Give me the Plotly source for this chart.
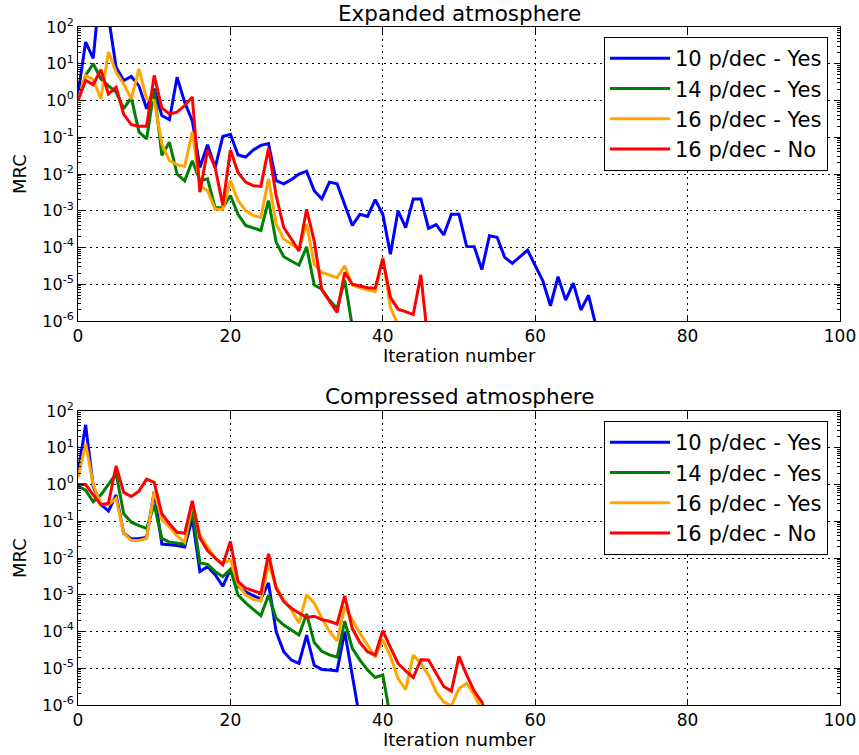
import plotly.graph_objects as go

# ---------------- data ----------------
series_names = ["10 p/dec - Yes", "14 p/dec - Yes", "16 p/dec - Yes", "16 p/dec - No"]
series_colors = ["#0000FF", "#008000", "#FFA500", "#FF0000"]

# Expanded atmosphere (top panel), value at iteration 0,1,2,...
exp_10_yes = [1.5, 39, 14, 2000, 190, 8, 3.5, 4.5, 2.5, 0.6, 2.1, 0.39, 0.3, 4.3, 0.9, 0.28,
              0.015, 0.063, 0.015, 0.105, 0.12, 0.033, 0.029, 0.045, 0.06, 0.067,
              0.0066, 0.0054, 0.007, 0.01, 0.012, 0.0035, 0.0021, 0.006, 0.0054, 0.0015,
              0.0004, 0.0008, 0.0007, 0.002, 0.0008, 6.6e-5, 0.001, 0.00035, 0.0021, 0.0021,
              0.00033, 0.00042, 0.00022, 0.0008, 0.0008, 0.000107, 0.000105, 2.5e-5, 0.00021,
              0.00019, 5.4e-5, 3.7e-5, 5.6e-5, 8.5e-5, 3.2e-5, 1.25e-5, 2.6e-6, 1.6e-5, 3.7e-6,
              1.07e-5, 2e-6, 5e-6, 7e-7]
exp_14_yes = [1.0, 4.8, 10, 3.9, 2.5, 1.7, 0.6, 1.2, 0.14, 0.09, 1.9, 0.032, 0.073, 0.01,
              0.0065, 0.023, 0.0066, 0.0074, 0.0012, 0.0012, 0.0026, 0.0008, 0.0004, 0.00034,
              0.00029, 0.0019, 0.00014, 5.6e-5, 4.2e-5, 3.3e-5, 0.000105, 9.5e-6, 7.4e-6,
              3.7e-6, 2.2e-6, 1.3e-5, 7e-7]
exp_16_yes = [1.0, 4.8, 3.7, 1.1, 21, 5.9, 2.8, 1.1, 7.3, 1.1, 1.0, 0.066, 0.023, 0.018,
              0.016, 0.14, 0.0048, 0.0035, 0.0011, 0.0011, 0.0066, 0.0019, 0.001, 0.00074,
              0.00066, 0.0074, 0.00044, 0.00017, 0.000125, 9e-5, 0.00044, 3.5e-5, 2.1e-5,
              1.8e-5, 1.5e-5, 3.2e-5, 9.5e-6, 8e-6, 7e-6, 6.3e-6, 5.4e-5, 2.3e-6, 8e-7]
exp_16_no = [1.0, 3.5, 2.7, 6.9, 1.5, 2.3, 0.42, 0.22, 0.2, 0.2, 4.8, 0.63, 0.43, 0.48,
             0.73, 1.25, 0.0032, 0.045, 0.015, 0.0014, 0.045, 0.011, 0.006, 0.0048, 0.0046,
             0.05, 0.0026, 0.00035, 0.00017, 8e-5, 0.0011, 0.00015, 7e-6, 3.5e-6, 1.7e-6,
             2.1e-5, 1e-5, 9e-6, 8e-6, 7.8e-6, 4.9e-5, 4.4e-6, 2.1e-6, 1.8e-6, 1.5e-6,
             1.8e-5, 2e-7]

# Compressed atmosphere (bottom panel)
com_10_yes = [2.0, 42, 0.87, 0.29, 0.19, 0.52, 0.047, 0.033, 0.034, 0.036, 0.66, 0.024,
              0.023, 0.022, 0.02, 0.12, 0.0043, 0.0058, 0.0035, 0.0017, 0.0049, 0.0017,
              0.0012, 0.00093, 0.00076, 0.0021, 0.0001, 2.8e-5, 1.67e-5, 1.35e-5, 8e-5,
              1.2e-5, 9.3e-6, 8.9e-6, 8.5e-6, 1e-4, 7.3e-6, 4e-7]
com_14_yes = [0.9, 0.7, 0.34, 0.52, 1.0, 2.0, 0.16, 0.094, 0.076, 0.064, 0.28, 0.034,
              0.027, 0.026, 0.024, 0.2, 0.0073, 0.0067, 0.0043, 0.0031, 0.0049, 0.00098,
              0.0006, 0.0004, 0.00027, 0.00098, 0.00023, 0.00015, 0.00011, 8e-5, 0.0003,
              5e-5, 2.9e-5, 2.3e-5, 2e-5, 0.00019, 3.5e-5, 1.67e-5, 9e-6, 5.6e-6, 6.6e-6,
              4.5e-7]
com_16_yes = [1.5, 13, 1.0, 0.29, 0.28, 0.42, 0.047, 0.03, 0.03, 0.034, 0.66, 0.11, 0.07,
              0.04, 0.027, 0.3, 0.042, 0.02, 0.0098, 0.0072, 0.0089, 0.0019, 0.001, 0.00075,
              0.00068, 0.0072, 0.0017, 0.00072, 0.00039, 0.00017, 0.001, 0.00059, 0.00023,
              0.0001, 5.5e-5, 0.00048, 0.0002, 9e-5, 4.3e-5, 2e-5, 5.9e-5, 2.1e-5, 5.3e-6,
              2.6e-6, 2.3e-5, 1.35e-5, 6.6e-6, 2.3e-6, 1.2e-6, 9.5e-7, 2.8e-6, 3.9e-6,
              1.9e-6, 7e-7]
com_16_no = [1.0, 1.0, 0.52, 0.28, 0.31, 3.2, 0.61, 0.47, 0.66, 1.4, 1.15, 0.16, 0.085,
             0.05, 0.047, 0.36, 0.035, 0.016, 0.01, 0.0065, 0.028, 0.0023, 0.0015, 0.0013,
             0.0011, 0.013, 0.0015, 0.00065, 0.00043, 0.00032, 0.00024, 0.00026, 0.00021,
             0.00019, 0.00016, 0.00093, 0.00012, 5e-5, 2.8e-5, 2.3e-5, 0.000105, 3.7e-5,
             1.35e-5, 8.5e-6, 5.6e-6, 1.7e-5, 1.67e-5, 7.3e-6, 3.2e-6, 2.4e-6, 2.1e-5,
             6.6e-6, 2.4e-6, 1.2e-6, 3e-7]

panel_titles = ["Expanded atmosphere", "Compressed atmosphere"]
x_label = "Iteration number"
y_label = "MRC"
x_ticks = [0, 20, 40, 60, 80, 100]
y_exponents = [-6, -5, -4, -3, -2, -1, 0, 1, 2]

# ---------------- figure ----------------
W, H = 859, 755
ML, MR, MT, MB = 78, 19, 27, 50
plot_h = H - MT - MB
plot_w = W - ML - MR

def py(pix):  # pixel y -> paper y
    return (H - MB - pix) / plot_h

def px(pix):
    return (pix - ML) / plot_w

FONT = "DejaVu Sans"
fig = go.Figure()

panels = [
    ([exp_10_yes, exp_14_yes, exp_16_yes, exp_16_no], "x", "y", "legend", "t"),
    ([com_10_yes, com_14_yes, com_16_yes, com_16_no], "x2", "y2", "legend2", "b"),
]
for data, xa, ya, lg, tag in panels:
    for k, (name, color, vals) in enumerate(zip(series_names, series_colors, data)):
        fig.add_trace(go.Scatter(
            x=list(range(len(vals))), y=vals, mode="lines", name=name,
            line=dict(color=color, width=3), xaxis=xa, yaxis=ya, legend=lg,
        ))

minor_vals = [k * 10.0 ** e for e in range(-6, 2) for k in range(2, 10)]
ytext = ["10<sup>%d</sup>" % e for e in y_exponents]
GRID_DASH = "1.5px,4.5px"

xcommon = dict(range=[0, 100], tickvals=x_ticks, ticktext=[str(v) for v in x_ticks],
               showline=True, linecolor="black", linewidth=1, mirror="ticks",
               ticks="inside", ticklen=6, tickcolor="black", automargin=False,
               showgrid=True, gridcolor="black", griddash=GRID_DASH, gridwidth=1,
               zeroline=False, tickfont=dict(family=FONT, size=17, color="black"))
ycommon = dict(type="log", range=[-6, 2], tickvals=[10.0 ** e for e in y_exponents],
               ticktext=ytext, showline=True, linecolor="black", linewidth=1,
               mirror="ticks", ticks="inside", ticklen=6, tickcolor="black",
               automargin=False,
               showgrid=True, gridcolor="black", griddash=GRID_DASH, gridwidth=1,
               zeroline=False, tickfont=dict(family=FONT, size=16, color="black"),
               minor=dict(tickmode="array", tickvals=minor_vals, ticks="inside",
                          ticklen=3, tickcolor="black", showgrid=False))

top_dom = [py(321), 1.0]
bot_dom = [0.0, py(411)]

legend_common = dict(xanchor="right", yanchor="top", bgcolor="white",
                     bordercolor="black", borderwidth=1,
                     font=dict(family=FONT, size=21, color="black"),
                     itemwidth=60)

fig.update_layout(
    width=W, height=H, autosize=False,
    margin=dict(l=ML, r=MR, t=MT, b=MB, autoexpand=False),
    paper_bgcolor="white", plot_bgcolor="white",
    font=dict(family=FONT, color="black"),
    xaxis=dict(domain=[0, 1], anchor="y", **xcommon),
    yaxis=dict(domain=top_dom, anchor="x", **ycommon),
    xaxis2=dict(domain=[0, 1], anchor="y2", **xcommon),
    yaxis2=dict(domain=bot_dom, anchor="x2", **ycommon),
    legend=dict(x=px(828), y=py(37), **legend_common),
    legend2=dict(x=px(828), y=py(421), **legend_common),
    showlegend=True,
)

ann = []
for title, ty, xy, my in [(panel_titles[0], 13, 355, 174), (panel_titles[1], 396, 740, 558)]:
    ann.append(dict(text=title, x=0.5, y=py(ty), xref="paper", yref="paper",
                    xanchor="center", yanchor="middle", showarrow=False,
                    font=dict(family=FONT, size=21.5, color="black")))
    ann.append(dict(text=x_label, x=0.5, y=py(xy), xref="paper", yref="paper",
                    xanchor="center", yanchor="middle", showarrow=False,
                    font=dict(family=FONT, size=18, color="black")))
    ann.append(dict(text=y_label, x=px(19), y=py(my), xref="paper", yref="paper",
                    xanchor="center", yanchor="middle", showarrow=False, textangle=-90,
                    font=dict(family=FONT, size=18, color="black")))
fig.update_layout(annotations=ann)

fig.write_html("out.html")
